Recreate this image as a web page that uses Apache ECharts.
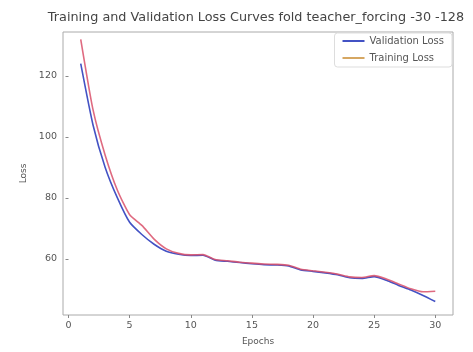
<!DOCTYPE html>
<html>
<head>
<meta charset="utf-8">
<script src="https://cdn.jsdelivr.net/npm/echarts@6/dist/echarts.min.js"></script>
<style>
  html, body { margin: 0; padding: 0; background: #fff; }
  #chart { width: 473px; height: 352px; }
</style>
</head>
<body>
<div id="chart"></div>
<script>
// Per-epoch loss values for the teacher forcing run
const epochs = [1,2,3,4,5,6,7,8,9,10,11,12,13,14,15,16,17,18,19,20,21,22,23,24,25,26,27,28,29,30];
const validationLoss = [124,104,90,80,72,68,64.8,62.5,61.5,61.1,61.2,59.6,59.2,58.8,58.4,58.1,58.0,57.7,56.4,55.9,55.4,54.8,53.8,53.6,54.2,53.0,51.3,49.8,48.0,46.0];
const trainingLoss = [132,109,94,82.5,74.5,71,66.5,63.3,61.8,61.3,61.4,59.8,59.4,58.9,58.6,58.3,58.2,57.9,56.6,56.1,55.6,55.0,54.1,53.9,54.5,53.4,51.8,50.2,49.2,49.4];
const xTicks = [0,5,10,15,20,25,30];
const yTicks = [60,80,100,120];

const pairs = (ys) => epochs.map((e, i) => [e, ys[i]]);
const textColor = '#555';
const font = 'DejaVu Sans';

const chart = echarts.init(document.getElementById('chart'), null, { renderer: 'canvas' });
chart.setOption({
  backgroundColor: '#fff',
  animation: false,
  title: {
    text: 'Training and Validation Loss Curves fold teacher_forcing -30 -128',
    left: 251, top: 6, textAlign: 'center',
    textStyle: { fontFamily: font, fontSize: 12.8, fontWeight: 'normal', color: '#444' }
  },
  legend: {
    right: 21, top: 33, orient: 'vertical', itemGap: 7,
    itemWidth: 22, itemHeight: 2, icon: 'rect',
    backgroundColor: '#fff', borderColor: '#ddd', borderWidth: 1, borderRadius: 3,
    padding: [3, 8, 4, 8],
    textStyle: { fontFamily: font, fontSize: 10, color: textColor },
    data: [
      { name: 'Validation Loss' },
      { name: 'Training Loss', itemStyle: { color: '#d6a762' } }
    ]
  },
  grid: {
    left: 63, right: 20, top: 32, bottom: 37,
    show: true, borderColor: '#aaa', borderWidth: 1
  },
  xAxis: {
    type: 'value', min: -0.45, max: 31.45,
    name: 'Epochs', nameLocation: 'middle', nameGap: 22,
    nameTextStyle: { fontFamily: font, fontSize: 9, color: textColor },
    axisLine: { show: false },
    splitLine: { show: false },
    axisTick: { show: true, length: 3, customValues: xTicks, lineStyle: { color: '#888' } },
    axisLabel: { customValues: xTicks, fontFamily: font, fontSize: 9.5, color: textColor, margin: 6 }
  },
  yAxis: {
    type: 'value', min: 41.6, max: 134.4,
    name: 'Loss', nameLocation: 'middle', nameGap: 33, nameRotate: 90,
    nameTextStyle: { fontFamily: font, fontSize: 9, color: textColor },
    axisLine: { show: false },
    splitLine: { show: false },
    axisTick: { show: true, length: 3, customValues: yTicks, lineStyle: { color: '#888' } },
    axisLabel: { customValues: yTicks, fontFamily: font, fontSize: 9.5, color: textColor, margin: 6 }
  },
  series: [
    {
      name: 'Validation Loss', type: 'line', data: pairs(validationLoss),
      showSymbol: false, color: '#4352c4', smooth: 0.2,
      lineStyle: { width: 1.6, color: '#4352c4' }
    },
    {
      name: 'Training Loss', type: 'line', data: pairs(trainingLoss),
      showSymbol: false, color: '#d9506a', smooth: 0.2,
      lineStyle: { width: 1.6, color: '#d9506a', opacity: 0.85 }
    }
  ]
});
</script>
</body>
</html>
